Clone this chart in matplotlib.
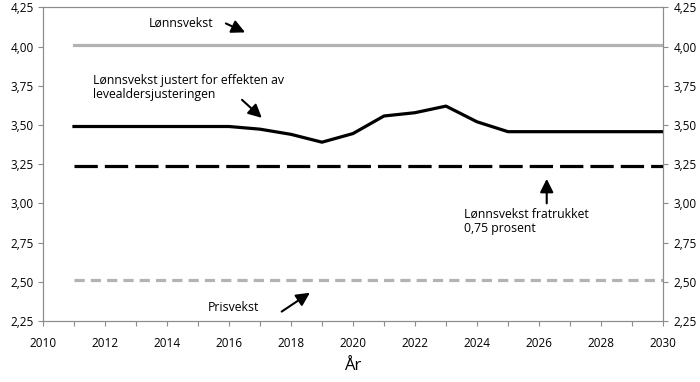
import numpy as np
import matplotlib.pyplot as plt
import matplotlib.ticker as ticker

# data
years = np.arange(2011, 2031)
lonnsvekst = [4.01] * len(years)
justert = [3.49, 3.49, 3.49, 3.49, 3.49, 3.49, 3.473, 3.44, 3.39, 3.445,
           3.557, 3.578, 3.62, 3.52, 3.457, 3.457, 3.457, 3.457, 3.457, 3.457]
fratrukket = [3.24] * len(years)
prisvekst = [2.51] * len(years)

yticks = np.arange(2.25, 4.26, 0.25)
xticks = np.arange(2010, 2031, 2)

def komma(v, pos):
    return ('%.2f' % v).replace('.', ',')

plt.rcParams['font.family'] = ['Open Sans', 'DejaVu Sans']
fig = plt.figure(figsize=(7, 3.82), dpi=100)
ax = fig.add_axes([0.0614, 0.1597, 0.8857, 0.8212])

ax.plot(years, lonnsvekst, color='#b3b3b3', lw=2.3)
ax.plot(years, justert, color='black', lw=2.3)
ax.plot(years, fratrukket, color='black', lw=2.3, dashes=(7.3, 2.2))
ax.plot(years, prisvekst, color='#b3b3b3', lw=2.3, dashes=(3.2, 1.9))

ax.set_xlim(2010, 2030)
ax.set_ylim(2.25, 4.25)
ax.set_xticks(xticks)
ax.xaxis.set_minor_locator(ticker.MultipleLocator(1))
ax.set_yticks(yticks)
ax.yaxis.set_major_formatter(ticker.FuncFormatter(komma))
ax.set_xlabel('År', fontsize=12, labelpad=6)

ax2 = ax.twinx()
ax2.set_ylim(2.25, 4.25)
ax2.set_yticks(yticks)
ax2.yaxis.set_major_formatter(ticker.FuncFormatter(komma))

for a in (ax, ax2):
    for s in a.spines.values():
        s.set_color('#8c8c8c')
        s.set_linewidth(0.8)
    a.tick_params(axis='both', which='both', colors='#8c8c8c', labelcolor='black',
                  labelsize=8.5, length=3.5, width=0.8, direction='out')
ax.tick_params(axis='x', pad=8)
ax.tick_params(axis='y', pad=3)
ax2.tick_params(axis='y', pad=4)

arrow = dict(arrowstyle='-|>,head_length=0.8,head_width=0.4', color='black', lw=1.5,
             shrinkA=0, shrinkB=0)
fs = 8.8
ax.text(2013.42, 4.15, 'Lønnsvekst', fontsize=fs, va='center')
ax.annotate('', xy=(2016.52, 4.09), xytext=(2015.9, 4.147), arrowprops=arrow)

ax.text(2011.6, 3.825, 'Lønnsvekst justert for effekten av\nlevealdersjusteringen',
        fontsize=fs, va='top', linespacing=1.15)
ax.annotate('', xy=(2017.06, 3.545), xytext=(2016.42, 3.66), arrowprops=arrow)

ax.text(2023.58, 2.975, 'Lønnsvekst fratrukket\n0,75 prosent', fontsize=fs, va='top',
        linespacing=1.15)
ax.annotate('', xy=(2026.25, 3.156), xytext=(2026.25, 3.0), arrowprops=arrow)

ax.text(2015.3, 2.334, 'Prisvekst', fontsize=fs, va='center')
ax.annotate('', xy=(2018.61, 2.43), xytext=(2017.7, 2.31), arrowprops=arrow)

plt.savefig('out.png', dpi=100)
